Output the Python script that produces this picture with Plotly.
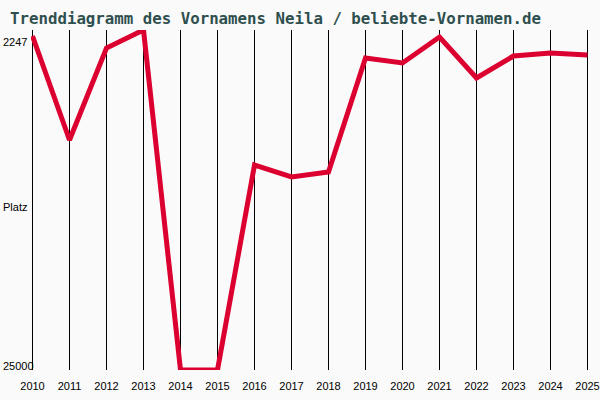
import plotly.graph_objects as go

# Data (rank per year)
years = list(range(2010, 2026))
ranks = [2648, 9608, 3451, 2247, 25000, 25000, 11280, 12084, 11747,
         4120, 4455, 2715, 5459, 3987, 3786, 3920]
best_rank = 2247
worst_rank = 25000
y_labels = [str(best_rank), "Platz", str(worst_rank)]

title_text = "Trenddiagramm des Vornamens Neila / beliebte-Vornamen.de"

fig = go.Figure()
fig.add_trace(go.Scatter(x=years, y=ranks, mode='lines',
                         line=dict(color='#dc0030', width=5),
                         hoverinfo='x+y'))

# plot area roughly x 32..588, y 30..370 (pixels)
W, H = 600, 400
ml, mr, mt, mb = 31, 11, 30, 30
pw = W - ml - mr
ph = H - mt - mb

# small padding so the edge grid lines are not clipped away
pad_px = 1.5
pad = pad_px * (years[-1] - years[0]) / (pw - 2 * pad_px)

def px_to_paper_x(px):
    return (px - ml) / pw

def px_to_paper_y(py):
    return (H - mb - py) / ph

label_y = [42, 207, 366]
for txt, py in zip(y_labels, label_y):
    fig.add_annotation(text=txt, xref='paper', yref='paper',
                       x=px_to_paper_x(1), y=px_to_paper_y(py),
                       xanchor='left', yanchor='middle', showarrow=False,
                       font=dict(family='Liberation Sans', size=11, color='black'))

fig.update_layout(
    width=W, height=H,
    margin=dict(l=ml, r=mr, t=mt, b=mb),
    paper_bgcolor='#fafafa', plot_bgcolor='#fafafa',
    showlegend=False,
    title=dict(text=title_text, x=10 / W, xanchor='left', y=1 - 18 / H, yanchor='middle',
               font=dict(family='DejaVu Sans Mono', size=15.75, color='#2f4f4f', weight='bold')),
    xaxis=dict(range=[years[0] - pad, years[-1] + pad], tickmode='array', tickvals=years,
               ticktext=[str(y) for y in years], automargin=False,
               ticklabeloverflow='allow',
               showgrid=True, gridcolor='black', gridwidth=1,
               zeroline=False, showline=False, ticks='', ticklabelstandoff=8,
               tickfont=dict(family='Liberation Sans', size=11, color='black')),
    yaxis=dict(range=[worst_rank, best_rank], showgrid=False, zeroline=False, automargin=False,
               showticklabels=False, showline=False, ticks=''),
)

fig.write_html("out.html", config={'displayModeBar': False},
               post_script="document.body.style.margin='0px';")
